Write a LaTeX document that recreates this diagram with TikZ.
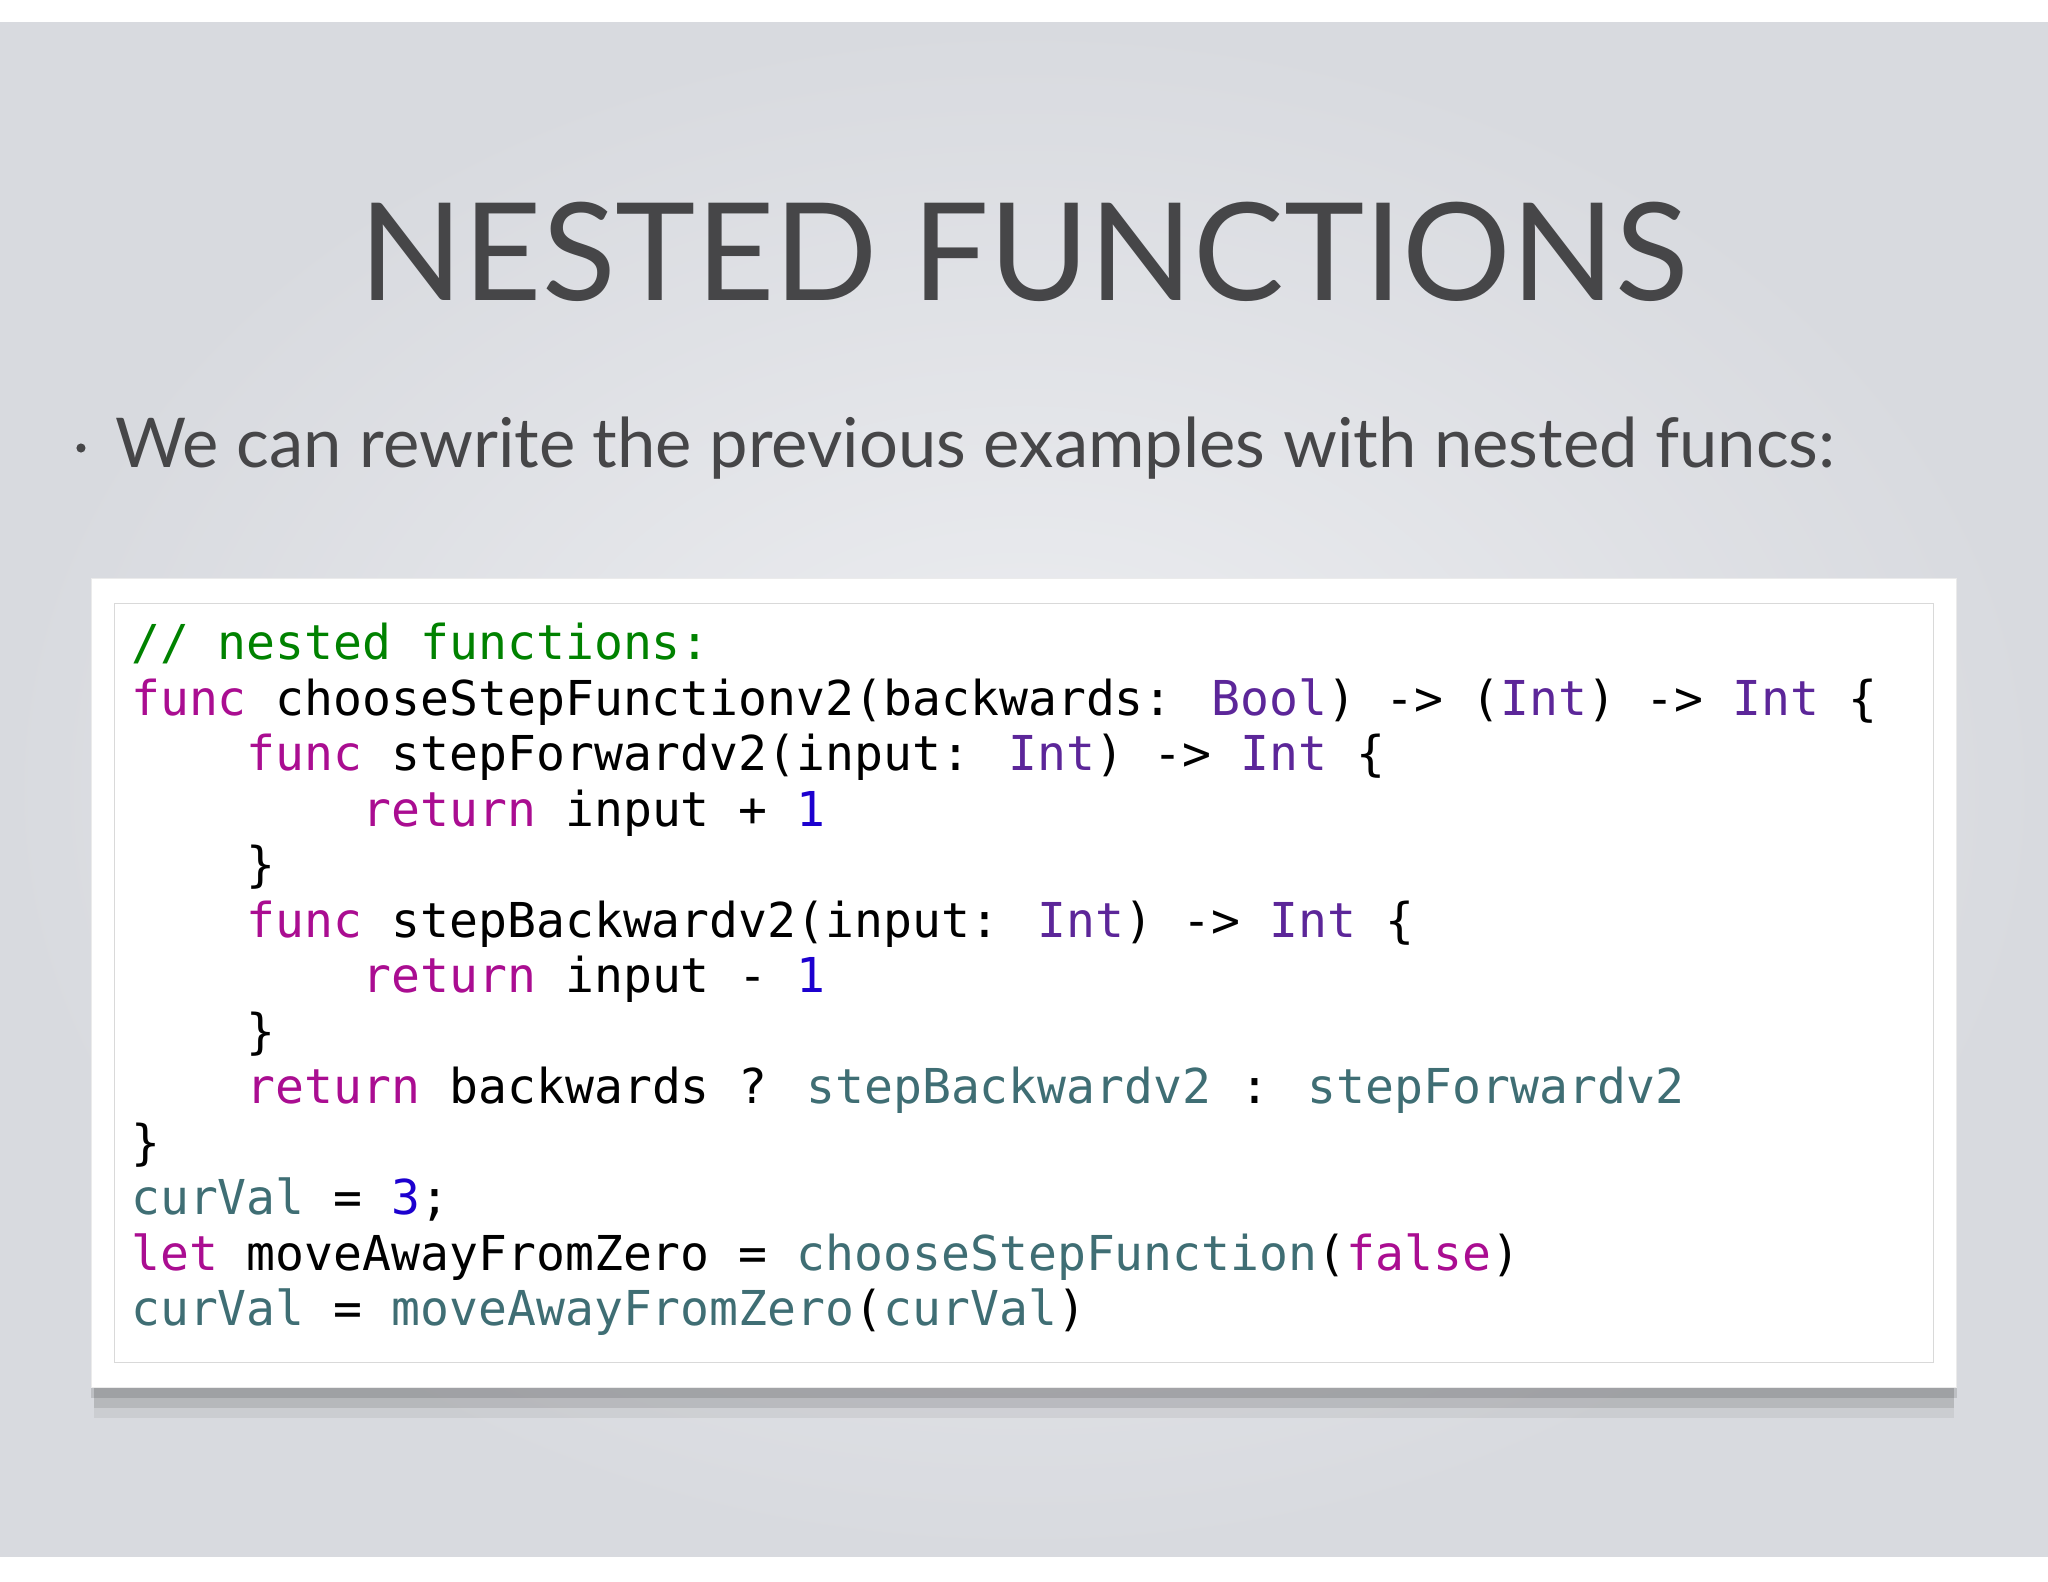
\documentclass[tikz,border=0pt]{standalone}
\usepackage{fontspec}
\setmainfont{Lato}
\newfontfamily\codefont{DejaVu Sans Mono}
\definecolor{bgmid}{RGB}{238,239,242}
\definecolor{bgedge}{RGB}{216,218,223}
\definecolor{titlecol}{RGB}{70,70,72}
\definecolor{kwc}{RGB}{170,13,145}
\definecolor{cmc}{RGB}{0,130,0}
\definecolor{tyc}{RGB}{92,38,153}
\definecolor{numc}{RGB}{28,0,207}
\definecolor{idc}{RGB}{63,110,116}
\newcommand{\kw}[1]{\textcolor{kwc}{#1}}
\newcommand{\ty}[1]{\textcolor{tyc}{#1}}
\newcommand{\nm}[1]{\textcolor{numc}{#1}}
\newcommand{\idf}[1]{\textcolor{idc}{#1}}
\tikzset{codeline/.style={anchor=base west,inner sep=0pt,font=\codefont\fontsize{18.4pt}{18pt}\selectfont}}
\begin{document}
\begin{tikzpicture}[x=0.5pt,y=-0.5pt]
\useasboundingbox (0,0) rectangle (1568,1211);
\fill[white] (0,0) rectangle (1568,1211);
\shade[inner color=bgmid,outer color=bgedge] (0,17) rectangle (1568,1192);
\node[font=\fontsize{52pt}{60pt}\selectfont,text=titlecol,anchor=base] (title) at (784,230) {NESTED FUNCTIONS};
\node[font=\fontsize{26.3pt}{30pt}\selectfont,text=titlecol,anchor=base west,inner sep=0pt] (bullet) at (88,358) {We can rewrite the previous examples with nested funcs:};
\fill[titlecol] (62,343) circle (3.5);
% shadow
\fill[black,opacity=0.06] (72,1055) rectangle (1496,1086);
\fill[black,opacity=0.10] (72,1058) rectangle (1496,1078);
\fill[black,opacity=0.12] (70,1058) rectangle (1498,1070);
\fill[white,draw=black!8] (70,443) rectangle (1498,1062);
\draw[black!15] (88,462) rectangle (1480,1043);
\def\lx{100}
\node[codeline] (l1) at (\lx,505) {\textcolor{cmc}{// nested functions:}};
\node[codeline] (l2) at (\lx,548) {\kw{func} chooseStepFunctionv2(backwards: \ty{Bool}) -> (\ty{Int}) -> \ty{Int} \{};
\node[codeline] (l3) at (\lx,590) {\phantom{xxxx}\kw{func} stepForwardv2(input: \ty{Int}) -> \ty{Int} \{};
\node[codeline] (l4) at (\lx,633) {\phantom{xxxxxxxx}\kw{return} input + \nm{1}};
\node[codeline] (l5) at (\lx,675) {\phantom{xxxx}\}};
\node[codeline] (l6) at (\lx,718) {\phantom{xxxx}\kw{func} stepBackwardv2(input: \ty{Int}) -> \ty{Int} \{};
\node[codeline] (l7) at (\lx,760) {\phantom{xxxxxxxx}\kw{return} input - \nm{1}};
\node[codeline] (l8) at (\lx,803) {\phantom{xxxx}\}};
\node[codeline] (l9) at (\lx,845) {\phantom{xxxx}\kw{return} backwards ? \idf{stepBackwardv2} : \idf{stepForwardv2}};
\node[codeline] (l10) at (\lx,888) {\}};
\node[codeline] (l11) at (\lx,930) {\idf{curVal} = \nm{3};};
\node[codeline] (l12) at (\lx,973) {\kw{let} moveAwayFromZero = \idf{chooseStepFunction}(\kw{false})};
\node[codeline] (l13) at (\lx,1015) {\idf{curVal} = \idf{moveAwayFromZero}(\idf{curVal})};
\end{tikzpicture}
\end{document}
